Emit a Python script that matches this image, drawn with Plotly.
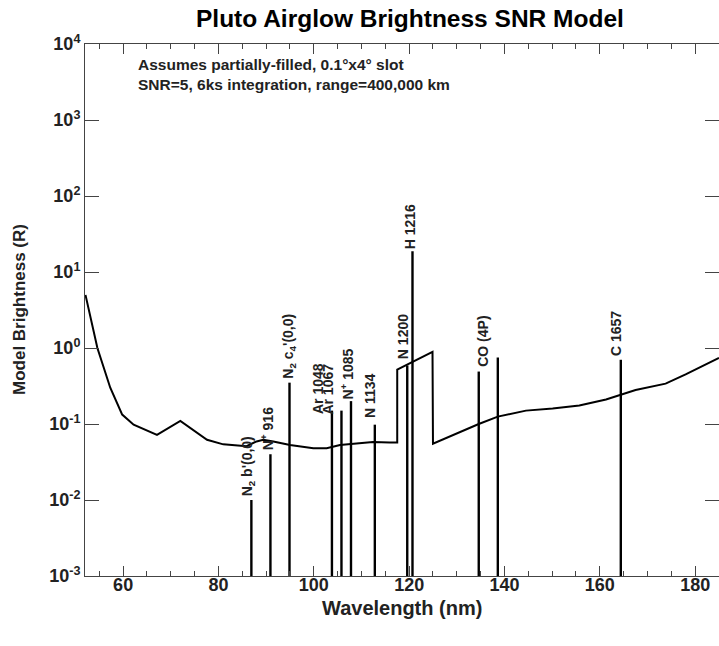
import math
import plotly.graph_objects as go

# ---- data ----
wl_cont = [52.1, 54.6, 57.3, 59.8, 62.2, 67.1, 72.0, 77.6, 81.0, 85.9, 88.0, 89.4,
           91.5, 95.0, 99.9, 102.7, 105.5, 109.0, 112.4, 115.9, 117.5, 117.5,
           124.9, 125.0, 134.6, 138.6, 144.5, 150.1, 155.7, 161.3, 164.4, 167.5,
           173.8, 178.0, 185.0]
br_cont = [5.0, 1.0, 0.30, 0.133, 0.098, 0.072, 0.11, 0.062, 0.054, 0.051, 0.059, 0.062,
           0.059, 0.053, 0.048, 0.048, 0.053, 0.056, 0.058, 0.057, 0.057, 0.52,
           0.89, 0.055, 0.10, 0.125, 0.15, 0.16, 0.175, 0.21, 0.24, 0.28,
           0.34, 0.45, 0.74]

line_wl = [86.9, 90.9, 94.9, 103.8, 105.8, 107.8, 112.8, 119.6, 120.7, 134.6, 138.6, 164.4]
line_br = [0.010, 0.040, 0.35, 0.15, 0.15, 0.20, 0.098, 0.59, 18.7, 0.49, 0.75, 0.70]
line_lbl = ["N<sub>2</sub> b'(0,0)", "N<sup>+</sup> 916", "N<sub>2</sub> c<sub>4</sub>'(0,0)",
            "Ar 1048", "Ar 1067", "N<sup>+</sup> 1085", "N 1134", "N 1200", "H 1216",
            "CO (4P)", "", "C 1657"]

y_floor = 1e-3
ytick_exp = [-3, -2, -1, 0, 1, 2, 3, 4]
xtick_vals = [60, 80, 100, 120, 140, 160, 180]

title_text = "Pluto Airglow Brightness SNR Model"
xtitle_text = "Wavelength (nm)"
ytitle_text = "Model Brightness (R)"
note_lines = ["Assumes partially-filled, 0.1°x4° slot",
              "SNR=5, 6ks integration, range=400,000 km"]

# ---- label placement styles (pixels) ----
lbl_xshift = [-3, -4, 0, -14, -13, -4, -5, -4, -3, 4, 0, -5]
lbl_yshift = [2, 2, 2, -5, -6, 0, 5, 4, 0, 3, 0, 2]

FONT = "Liberation Sans, Arial, Helvetica, sans-serif"
TXT = "#222222"

# plot area in pixels: left 85, right 719, top 44, bottom 576
PL, PR, PT, PB = 85, 719, 44, 576
def px_x(p):
    return (p - PL) / (PR - PL)
def px_y(p):
    return (PB - p) / (PB - PT)

fig = go.Figure()

fig.add_trace(go.Scatter(x=wl_cont, y=br_cont, mode="lines",
                         line=dict(color="black", width=2), showlegend=False,
                         hoverinfo="skip"))

sx, sy = [], []
for w, b in zip(line_wl, line_br):
    sx += [w, w, None]
    sy += [y_floor, b, None]
fig.add_trace(go.Scatter(x=sx, y=sy, mode="lines",
                         line=dict(color="black", width=2.4), showlegend=False,
                         hoverinfo="skip"))

annotations = []
for i, (w, b, t) in enumerate(zip(line_wl, line_br, line_lbl)):
    if not t:
        continue
    annotations.append(dict(x=w, y=math.log10(b), xref="x", yref="y", text=t,
                            textangle=-90, showarrow=False, xanchor="center",
                            yanchor="bottom", xshift=lbl_xshift[i], yshift=lbl_yshift[i],
                            font=dict(family=FONT, size=14, color=TXT, weight="bold")))

for k, (t, ypx) in enumerate(zip(note_lines, [64, 84])):
    annotations.append(dict(x=px_x(136), y=px_y(ypx), xref="paper", yref="paper",
                            text=t, showarrow=False, xanchor="left", yanchor="middle",
                            font=dict(family=FONT, size=15.5, color=TXT, weight="bold")))

annotations.append(dict(x=px_x(410), y=px_y(19), xref="paper", yref="paper",
                        text=title_text, showarrow=False, xanchor="center", yanchor="middle",
                        font=dict(family=FONT, size=24.5, color="black", weight="bold")))
annotations.append(dict(x=px_x(402), y=px_y(608), xref="paper", yref="paper",
                        text=xtitle_text, showarrow=False, xanchor="center", yanchor="middle",
                        font=dict(family=FONT, size=20, color=TXT, weight="bold")))
annotations.append(dict(x=px_x(19), y=px_y(310), xref="paper", yref="paper",
                        text=ytitle_text, showarrow=False, xanchor="center", yanchor="middle",
                        textangle=-90,
                        font=dict(family=FONT, size=17, color=TXT, weight="bold")))

fig.update_layout(
    width=719, height=646,
    margin=dict(l=PL, r=719 - PR, t=PT, b=646 - PB, autoexpand=False),
    paper_bgcolor="white", plot_bgcolor="white",
    hovermode=False,
    annotations=annotations,
    xaxis=dict(range=[52, 185], showgrid=False, zeroline=False, automargin=False,
               showline=True, linecolor="#444", linewidth=1, mirror="ticks",
               ticks="inside", ticklen=10, tickwidth=1, tickcolor="#444",
               tickvals=xtick_vals, ticklabelstandoff=-8,
               minor=dict(dtick=5, tick0=0, ticks="inside", ticklen=5, tickcolor="#444"),
               tickfont=dict(family=FONT, size=18, color=TXT, weight="bold")),
    yaxis=dict(type="log", range=[-3, 4], showgrid=False, zeroline=False, automargin=False,
               showline=True, linecolor="#444", linewidth=1, mirror="ticks",
               ticks="inside", ticklen=14, tickwidth=1, tickcolor="#444",
               tickvals=[10 ** e for e in ytick_exp],
               ticktext=["10<sup>%d</sup>" % e for e in ytick_exp],
               tickfont=dict(family=FONT, size=18, color=TXT, weight="bold")),
)

fig.write_html("out.html", config={"displayModeBar": False, "staticPlot": True},
               post_script="document.body.style.margin='0';document.body.style.overflow='hidden';")
